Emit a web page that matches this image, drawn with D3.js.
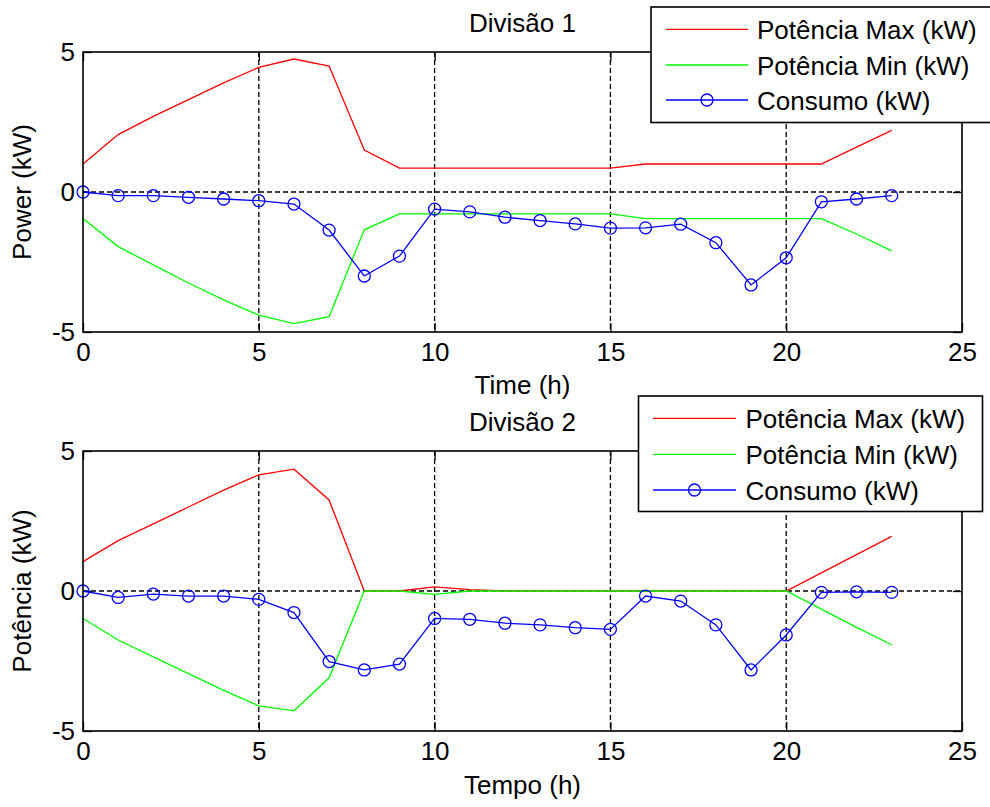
<!DOCTYPE html>
<html>
<head>
<meta charset="utf-8">
<script src="https://cdn.jsdelivr.net/npm/d3@7"></script>
<style>
  body { margin: 0; background: #fff; }
  text { font-family: "Liberation Sans", Arial, sans-serif; fill: #000; }
</style>
</head>
<body>
<svg id="chart" width="990" height="807"></svg>
<script>
// hours on the x axis
const hours = [0, 1, 2, 3, 4, 5, 6, 7, 8, 9, 10, 11, 12, 13, 14, 15, 16, 17, 18, 19, 20, 21, 22, 23];

// Divisão 1
const div1Max = [1.0, 2.05, 2.7, 3.3, 3.9, 4.45, 4.75, 4.5, 1.5, 0.85, 0.85, 0.85, 0.85, 0.85, 0.85, 0.85, 1.0, 1.0, 1.0, 1.0, 1.0, 1.0, 1.6, 2.2];
const div1Min = [-0.95, -1.95, -2.6, -3.25, -3.85, -4.4, -4.7, -4.45, -1.35, -0.78, -0.78, -0.78, -0.78, -0.78, -0.78, -0.78, -0.95, -0.95, -0.95, -0.95, -0.95, -0.95, -1.5, -2.1];
const div1Cons = [0, -0.13, -0.13, -0.19, -0.25, -0.31, -0.43, -1.36, -3.0, -2.29, -0.61, -0.71, -0.9, -1.02, -1.14, -1.29, -1.28, -1.15, -1.81, -3.32, -2.35, -0.35, -0.25, -0.13];

// Divisão 2
const div2Max = [1.05, 1.8, 2.4, 3.0, 3.6, 4.15, 4.35, 3.25, 0, 0, 0.15, 0.05, 0, 0, 0, 0, 0, 0, 0, 0, 0, 0.65, 1.3, 1.95];
const div2Min = [-0.98, -1.75, -2.35, -2.95, -3.55, -4.1, -4.28, -3.1, 0, 0, -0.12, 0, 0, 0, 0, 0, 0, 0, 0, 0, 0, -0.65, -1.3, -1.92];
const div2Cons = [0, -0.23, -0.11, -0.18, -0.18, -0.3, -0.77, -2.52, -2.82, -2.61, -0.98, -1.01, -1.15, -1.21, -1.31, -1.37, -0.18, -0.36, -1.21, -2.82, -1.57, -0.05, -0.03, -0.05];

const xTicks = [0, 5, 10, 15, 20, 25];
const yTicks = [-5, 0, 5];
const seriesNames = ['Potência Max (kW)', 'Potência Min (kW)', 'Consumo (kW)'];
const seriesColors = ['#ff0000', '#00ff00', '#0000ff'];

const svg = d3.select('#chart');
svg.append('rect').attr('width', 990).attr('height', 807).attr('fill', '#fff');

const FONT = 26;

function drawPanel(opts) {
  const { top, bottom, left, right, title, xLabel, yLabel, series, legend } = opts;

  const x = d3.scaleLinear().domain([0, 25]).range([left, right]);
  const y = d3.scaleLinear().domain([-5, 5]).range([bottom, top]);

  const g = svg.append('g');

  // grid (only interior ticks)
  g.selectAll('.gx').data(xTicks.filter(d => d > 0 && d < 25)).enter()
    .append('line')
      .attr('x1', d => x(d)).attr('x2', d => x(d))
      .attr('y1', top).attr('y2', bottom)
      .attr('stroke', '#000').attr('stroke-width', 1.3)
      .attr('stroke-dasharray', '5,3');
  g.selectAll('.gy').data(yTicks.filter(d => d > -5 && d < 5)).enter()
    .append('line')
      .attr('x1', left).attr('x2', right)
      .attr('y1', d => y(d)).attr('y2', d => y(d))
      .attr('stroke', '#000').attr('stroke-width', 1.3)
      .attr('stroke-dasharray', '5,3');

  // axes with inward ticks
  const fmt = d => String(d);
  const ax = g.append('g').attr('transform', `translate(0,${bottom})`)
    .call(d3.axisBottom(x).tickValues(xTicks).tickSize(-9).tickPadding(11).tickFormat(fmt));
  g.append('g').attr('transform', `translate(0,${top})`)
    .call(d3.axisTop(x).tickValues(xTicks).tickSize(-9).tickFormat(''));
  const ay = g.append('g').attr('transform', `translate(${left},0)`)
    .call(d3.axisLeft(y).tickValues(yTicks).tickSize(-9).tickPadding(8).tickFormat(fmt));
  g.append('g').attr('transform', `translate(${right},0)`)
    .call(d3.axisRight(y).tickValues(yTicks).tickSize(-9).tickFormat(''));
  g.selectAll('.domain').remove();
  g.selectAll('.tick line').attr('stroke', '#000').attr('stroke-width', 1.3);
  g.selectAll('.tick text').attr('font-size', FONT).attr('fill', '#000')
    .style('font-family', '"Liberation Sans", Arial, sans-serif');

  // data
  series.forEach((vals, i) => {
    const line = d3.line().x((d, j) => x(hours[j])).y(d => y(d));
    g.append('path').datum(vals)
      .attr('d', line)
      .attr('fill', 'none')
      .attr('stroke', seriesColors[i])
      .attr('stroke-width', 1.3);
    if (i === 2) {
      g.selectAll('.mk' + top).data(vals).enter()
        .append('circle')
          .attr('cx', (d, j) => x(hours[j]))
          .attr('cy', d => y(d))
          .attr('r', 6)
          .attr('fill', 'none')
          .attr('stroke', seriesColors[i])
          .attr('stroke-width', 1.3);
    }
  });

  // axes box
  g.append('rect')
    .attr('x', left).attr('y', top)
    .attr('width', right - left).attr('height', bottom - top)
    .attr('fill', 'none').attr('stroke', '#000').attr('stroke-width', 1.6);

  // title and labels
  g.append('text').attr('x', (left + right) / 2).attr('y', opts.titleY)
    .attr('text-anchor', 'middle').attr('font-size', FONT).text(title);
  g.append('text').attr('x', (left + right) / 2).attr('y', opts.xLabelY)
    .attr('text-anchor', 'middle').attr('font-size', FONT).text(xLabel);
  g.append('text')
    .attr('transform', `translate(${opts.yLabelX},${(top + bottom) / 2}) rotate(-90)`)
    .attr('text-anchor', 'middle').attr('font-size', FONT).text(yLabel);

  // legend
  const lg = svg.append('g');
  lg.append('rect')
    .attr('x', legend.x).attr('y', legend.y)
    .attr('width', legend.w).attr('height', legend.h)
    .attr('fill', '#fff').attr('stroke', '#000').attr('stroke-width', 1.6);
  seriesNames.forEach((name, i) => {
    const ry = legend.rows[i];
    lg.append('line')
      .attr('x1', legend.sx1).attr('x2', legend.sx2)
      .attr('y1', ry).attr('y2', ry)
      .attr('stroke', seriesColors[i]).attr('stroke-width', 1.3);
    if (i === 2) {
      lg.append('circle')
        .attr('cx', (legend.sx1 + legend.sx2) / 2).attr('cy', ry).attr('r', 6)
        .attr('fill', 'none').attr('stroke', seriesColors[i]).attr('stroke-width', 1.3);
    }
    lg.append('text')
      .attr('x', legend.tx).attr('y', ry + 9.5)
      .attr('font-size', FONT).text(name);
  });
}

drawPanel({
  top: 52, bottom: 332, left: 83, right: 962,
  title: 'Divisão 1', titleY: 32, xLabel: 'Time (h)', xLabelY: 394,
  yLabel: 'Power (kW)', yLabelX: 31,
  series: [div1Max, div1Min, div1Cons],
  legend: { x: 651, y: 7, w: 350, h: 115.5, rows: [29.3, 65, 100], sx1: 666, sx2: 748, tx: 757 }
});

drawPanel({
  top: 451, bottom: 731, left: 83, right: 962,
  title: 'Divisão 2', titleY: 431, xLabel: 'Tempo (h)', xLabelY: 794,
  yLabel: 'Potência (kW)', yLabelX: 31,
  series: [div2Max, div2Min, div2Cons],
  legend: { x: 638.5, y: 396, w: 344, h: 115.5, rows: [418.3, 454.3, 490], sx1: 653, sx2: 736, tx: 745.5 }
});
</script>
</body>
</html>
